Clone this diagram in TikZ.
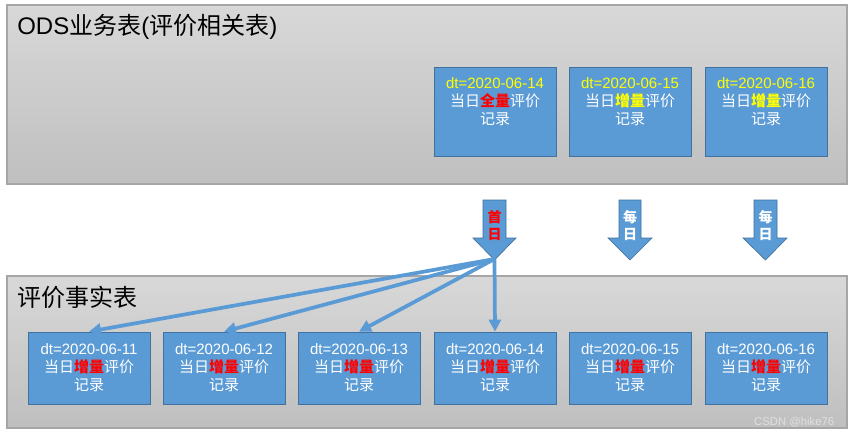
\documentclass[tikz,border=0pt]{standalone}
\usepackage{fontspec}
\setmainfont{Liberation Sans}
\newfontfamily\cjk{Noto Sans CJK SC}
\usetikzlibrary{positioning,arrows.meta}

\definecolor{boxblue}{HTML}{5B9BD5}
\definecolor{boxline}{HTML}{41719C}
\definecolor{panelline}{HTML}{A6A6A6}
\definecolor{paneltop}{HTML}{D8D8D8}
\definecolor{panelbot}{HTML}{BFBFBF}
\definecolor{dateyellow}{HTML}{FFFF00}

\tikzset{
  panel/.style={draw=panelline, line width=0.8pt, top color=paneltop, bottom color=panelbot},
  recbox/.style={draw=boxline, fill=boxblue, line width=0.6pt, minimum width=91.5pt, inner sep=0pt},
  rectext/.style={align=center, text=white, inner sep=0pt, font=\fontsize{11.25}{13.5}\selectfont},
  paneltitle/.style={anchor=west, inner sep=0pt, font=\fontsize{18}{21}\selectfont},
  blockarrow/.style={draw=boxline, line width=0.5pt, fill=boxblue},
  arrowtext/.style={align=center, inner sep=0pt, font=\fontsize{10.5}{12.75}\selectfont\bfseries},
  link/.style={draw=boxblue, line width=2.8pt, -{Triangle[length=9pt,width=9pt]}}
}

\begin{document}
\begin{tikzpicture}[x=0.75pt,y=0.75pt,yscale=-1,xscale=1]
\useasboundingbox (0,0) rectangle (854,437);
\fill[white] (0,0) rectangle (854,437);

% panels
\shade[panel] (7,5) rectangle (847,184);
\shade[panel] (7,276) rectangle (847,428);

% Text Node
\node[paneltitle] (odstitle) at (17,27) {ODS{\cjk 业务表}({\cjk 评价相关表})};
% Text Node
\node[paneltitle] (facttitle) at (17,297) {\cjk 评价事实表};

% ODS boxes
\node[recbox, minimum height=66.75pt] (o1) at (495,112) {};
\node[rectext, below=8pt of o1.north] (o1txt) {\textcolor{dateyellow}{dt=2020-06-14}\\
  \cjk 当日\textcolor{red}{\bfseries 全量}评价\\ \cjk 记录};
\node[recbox, minimum height=66.75pt] (o2) at (630,112) {};
\node[rectext, below=8pt of o2.north] (o2txt) {\textcolor{dateyellow}{dt=2020-06-15}\\
  \cjk 当日\textcolor{dateyellow}{\bfseries 增量}评价\\ \cjk 记录};
\node[recbox, minimum height=66.75pt] (o3) at (766,112) {};
\node[rectext, below=8pt of o3.north] (o3txt) {\textcolor{dateyellow}{dt=2020-06-16}\\
  \cjk 当日\textcolor{dateyellow}{\bfseries 增量}评价\\ \cjk 记录};

% fact boxes
\node[recbox, minimum height=54pt, rectext] (f1) at (89,368) {dt=2020-06-11\\
  \cjk 当日\textcolor{red}{\bfseries 增量}评价\\ \cjk 记录};
\node[recbox, minimum height=54pt, rectext] (f2) at (224,368) {dt=2020-06-12\\
  \cjk 当日\textcolor{red}{\bfseries 增量}评价\\ \cjk 记录};
\node[recbox, minimum height=54pt, rectext] (f3) at (359,368) {dt=2020-06-13\\
  \cjk 当日\textcolor{red}{\bfseries 增量}评价\\ \cjk 记录};
\node[recbox, minimum height=54pt, rectext] (f4) at (495,368) {dt=2020-06-14\\
  \cjk 当日\textcolor{red}{\bfseries 增量}评价\\ \cjk 记录};
\node[recbox, minimum height=54pt, rectext] (f5) at (630,368) {dt=2020-06-15\\
  \cjk 当日\textcolor{red}{\bfseries 增量}评价\\ \cjk 记录};
\node[recbox, minimum height=54pt, rectext] (f6) at (766,368) {dt=2020-06-16\\
  \cjk 当日\textcolor{red}{\bfseries 增量}评价\\ \cjk 记录};

% block arrows
\draw[blockarrow] (483,200) -- (506,200) -- (506,238) -- (516,238) -- (494.5,260) -- (473,238) -- (483,238) -- cycle;
\coordinate (firsttip) at (494.5,259);
\node[arrowtext, text=red] (firstday) at (494.5,226) {\cjk 首\\ \cjk 日};

\draw[blockarrow] (619,200) -- (641,200) -- (641,238) -- (652,238) -- (630,260) -- (608,238) -- (619,238) -- cycle;
\node[arrowtext, text=white] (daily1) at (630,226) {\cjk 每\\ \cjk 日};

\draw[blockarrow] (754,200) -- (777,200) -- (777,238) -- (787,238) -- (765.5,260) -- (743,238) -- (754,238) -- cycle;
\node[arrowtext, text=white] (daily2) at (765.5,226) {\cjk 每\\ \cjk 日};

% links from the first day
\draw[link] (firsttip) -- (f1.north);
\draw[link] (firsttip) -- (f2.north);
\draw[link] (firsttip) -- (f3.north);
\draw[link] (firsttip) -- (f4.north);

% Text Node
\node[text=white!88!black, font=\fontsize{8.5}{9}\selectfont, anchor=east] (mark) at (839,422) {CSDN @hike76};

\end{tikzpicture}
\end{document}
